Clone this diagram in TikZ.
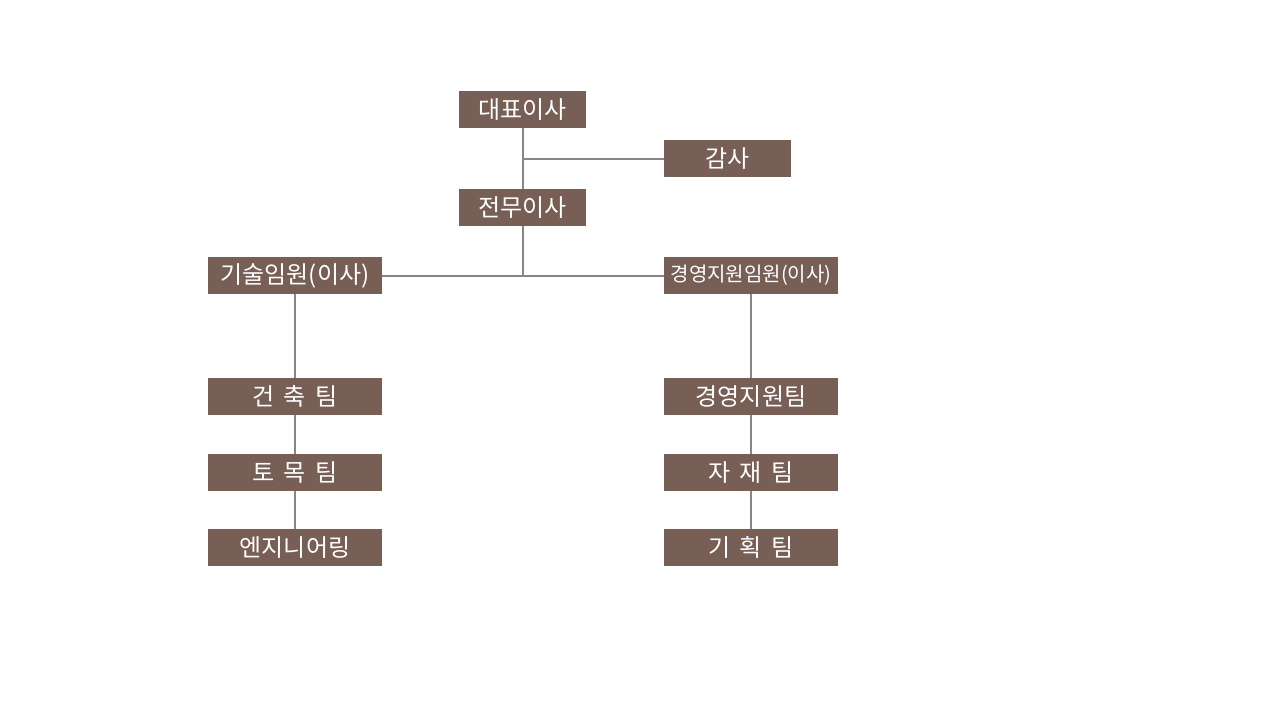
\documentclass[tikz,border=0pt]{standalone}
\usepackage{fontspec}
\setmainfont{Noto Sans CJK KR}
\definecolor{boxfill}{HTML}{775F55}
\definecolor{linegray}{HTML}{8E8384}
\begin{document}
\begin{tikzpicture}[x=1pt,y=-1pt,
  orgbox/.style={fill=boxfill, text=white, minimum height=37pt, inner sep=0pt, font=\fontsize{24}{26}\selectfont},
  narrow/.style={orgbox, minimum width=127pt},
  wide/.style={orgbox, minimum width=174pt},
  spaced/.style={execute at begin node={\spaceskip=0.38em\relax}},
  conn/.style={draw=linegray, line width=2pt}]
\useasboundingbox[fill=white] (0,0) rectangle (1280,720);
\node[narrow] (ceo) at (522.5,109.5) {대표이사};
\node[narrow] (audit) at (727.5,158.5) {감사};
\node[narrow] (md) at (522.5,207.5) {전무이사};
\node[wide] (tech) at (295,275.5) {기술임원(이사)};
\node[wide, font=\fontsize{20}{22}\selectfont] (mgmt) at (751,275.5) {경영지원임원(이사)};
\node[wide, spaced] (arch) at (295,396.5) {건 축 팀};
\node[wide, spaced] (civil) at (295,472.5) {토 목 팀};
\node[wide] (eng) at (295,547.5) {엔지니어링};
\node[wide] (mst) at (751,396.5) {경영지원팀};
\node[wide, spaced] (mat) at (751,472.5) {자 재 팀};
\node[wide, spaced] (plan) at (751,547.5) {기 획 팀};
\coordinate (j1) at (ceo.south |- audit.west);
\coordinate (j2) at (md.south |- tech.east);
\draw[conn] (ceo.south) -- (md.north);
\draw[conn] (j1) -- (audit.west);
\draw[conn] (md.south) -- (j2);
\draw[conn] (tech.east) -- (mgmt.west);
\draw[conn] (tech.south) -- (arch.north);
\draw[conn] (arch.south) -- (civil.north);
\draw[conn] (civil.south) -- (eng.north);
\draw[conn] (mgmt.south) -- (mst.north);
\draw[conn] (mst.south) -- (mat.north);
\draw[conn] (mat.south) -- (plan.north);
\end{tikzpicture}
\end{document}
